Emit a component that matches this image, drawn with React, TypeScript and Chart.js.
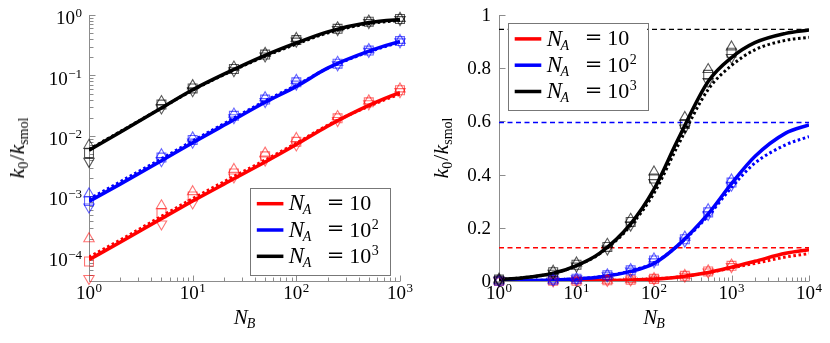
import React, { useEffect, useRef, useState } from 'react';
import { Chart, registerables } from 'chart.js';
Chart.register(...registerables);

// ---- data ----
const curveN = [1, 2, 5, 10, 20, 50, 100, 200, 500, 1000, 2000, 5000, 10000];
const solidNA10 = [9.0e-5, 1.75e-4, 4.3e-4, 8.4e-4, 1.6e-3, 3.7e-3, 7.2e-3, 0.0145, 0.032, 0.052, 0.074, 0.104, 0.118];
const dottedNA10 = [1.0e-4, 1.9e-4, 4.7e-4, 9.2e-4, 1.75e-3, 4.0e-3, 7.6e-3, 0.015, 0.031, 0.049, 0.066, 0.09, 0.103];
const solidNA100 = [8.3e-4, 1.6e-3, 3.9e-3, 7.7e-3, 0.015, 0.036, 0.066, 0.132, 0.252, 0.366, 0.468, 0.556, 0.587];
const dottedNA100 = [9.0e-4, 1.75e-3, 4.2e-3, 8.3e-3, 0.016, 0.038, 0.069, 0.131, 0.245, 0.352, 0.443, 0.512, 0.543];
const solidNA1000 = [5.8e-3, 0.0115, 0.029, 0.058, 0.105, 0.215, 0.345, 0.527, 0.75, 0.84, 0.896, 0.931, 0.944];
const dottedNA1000 = [6.0e-3, 0.0118, 0.029, 0.057, 0.103, 0.208, 0.33, 0.505, 0.72, 0.81, 0.869, 0.905, 0.916];

const markerN = [1, 5, 10, 25, 50, 100, 250, 500, 1000];
const sqNA10 = [8.4e-5, 5.3e-4, 1.0e-3, 2.4e-3, 4.6e-3, 8.0e-3, 0.0196, 0.036, 0.057];
const upNA10 = [2.0e-4, 7.0e-4, 1.2e-3, 2.8e-3, 5.2e-3, 9.1e-3, 0.021, 0.038, 0.06];
const downNA10 = [4.4e-5, 3.5e-4, 7.8e-4, 2.1e-3, 4.0e-3, 7.1e-3, 0.018, 0.034, 0.054];
const sqNA100 = [8.4e-4, 4.4e-3, 8.6e-3, 0.0215, 0.04, 0.077, 0.157, 0.258, 0.37];
const upNA100 = [1.1e-3, 4.9e-3, 9.3e-3, 0.023, 0.043, 0.083, 0.165, 0.268, 0.38];
const downNA100 = [6.7e-4, 3.9e-3, 7.9e-3, 0.02, 0.037, 0.072, 0.15, 0.25, 0.36];
const sqNA1000 = [5.2e-3, 0.033, 0.061, 0.128, 0.222, 0.385, 0.59, 0.775, 0.858];
const upNA1000 = [7.0e-3, 0.037, 0.068, 0.138, 0.232, 0.41, 0.615, 0.795, 0.88];
const downNA1000 = [3.8e-3, 0.029, 0.056, 0.12, 0.21, 0.37, 0.575, 0.75, 0.84];

const asymptoteValues = [0.125, 0.596, 0.946];
const asymptoteN = [1, 10000];

const leftXDecades = [0, 1, 2, 3];
const leftYDecades = [-4, -3, -2, -1, 0];
const rightXDecades = [0, 1, 2, 3, 4];
const rightYTicks = [0, 0.2, 0.4, 0.6, 0.8, 1];
const rightYTickLabels = ['0', '0.2', '0.4', '0.6', '0.8', '1'];

const legendBase = ['10', '10', '10'];
const legendExp = ['', '2', '3'];

const seriesColors = ['#ff0000', '#0000ff', '#000000'];
const markerColors = ['rgba(255,0,0,0.55)', 'rgba(0,0,255,0.6)', 'rgba(0,0,0,0.65)'];

const AXIS_COLOR = '#8c8c8c';
const SERIF = 'Liberation Serif, serif';
const EQ_FONT = 'DejaVu Serif, serif';

type Side = 'left' | 'right';
const panelCfg: Record<Side, any> = {
  left: { xDecades: leftXDecades, yLog: true, yDecades: leftYDecades, yTitleX: 24, legendPos: 'br' },
  right: { xDecades: rightXDecades, yLog: false, yTicks: rightYTicks, yTitleX: 33, legendPos: 'tl' },
};

const LEG_W = 139.5;
const LEG_H = 86.5;
function legendBox(a: any, pos: string) {
  const bx = pos === 'br' ? a.right - 10.7 - LEG_W : a.left + 8.7;
  const by = pos === 'br' ? a.bottom - 7 - LEG_H : a.top + 7.7;
  return { bx, by };
}

function line(ctx: CanvasRenderingContext2D, x1: number, y1: number, x2: number, y2: number) {
  ctx.beginPath();
  ctx.moveTo(x1, y1);
  ctx.lineTo(x2, y2);
  ctx.stroke();
}

// axes, tick marks and legend frame drawn on the canvas; text is real DOM text on top
const pgfPlugin = {
  id: 'pgf',
  beforeDatasetsDraw(chart: any, _args: any, o: any) {
    const { ctx, chartArea: a } = chart;
    const xs = chart.scales.x;
    const ys = chart.scales.y;
    ctx.save();
    ctx.strokeStyle = AXIS_COLOR;
    ctx.lineWidth = 1;
    const L = Math.round(a.left) + 0.5;
    const B = Math.round(a.bottom) + 0.5;
    ctx.beginPath();
    ctx.moveTo(L, a.top);
    ctx.lineTo(L, B);
    ctx.lineTo(a.right, B);
    ctx.stroke();
    const xd: number[] = o.xDecades;
    xd.forEach((d: number, i: number) => {
      const px = Math.round(xs.getPixelForValue(Math.pow(10, d))) + 0.5;
      line(ctx, px, B, px, B - 6);
      if (i < xd.length - 1) {
        for (let m = 2; m <= 9; m++) {
          const p = Math.round(xs.getPixelForValue(m * Math.pow(10, d))) + 0.5;
          line(ctx, p, B, p, B - 4);
        }
      }
    });
    if (o.yLog) {
      const yd: number[] = o.yDecades;
      yd.forEach((d: number) => {
        const py = Math.round(ys.getPixelForValue(Math.pow(10, d))) + 0.5;
        line(ctx, L, py, L + 6, py);
      });
      for (let d = yd[0] - 1; d < yd[yd.length - 1]; d++) {
        for (let m = 2; m <= 9; m++) {
          const v = m * Math.pow(10, d);
          if (v < ys.min || v > ys.max) continue;
          const py = Math.round(ys.getPixelForValue(v)) + 0.5;
          line(ctx, L, py, L + 4, py);
        }
      }
    } else {
      (o.yTicks as number[]).forEach((v) => {
        const py = Math.round(ys.getPixelForValue(v)) + 0.5;
        line(ctx, L, py, L + 6, py);
      });
    }
    ctx.restore();
  },
  afterDatasetsDraw(chart: any, _args: any, o: any) {
    const { ctx, chartArea: a } = chart;
    const { bx, by } = legendBox(a, o.legendPos);
    ctx.save();
    ctx.fillStyle = '#fff';
    ctx.fillRect(bx, by, LEG_W, LEG_H);
    ctx.strokeStyle = '#777';
    ctx.lineWidth = 1;
    ctx.strokeRect(Math.round(bx) + 0.5, Math.round(by) + 0.5, Math.round(LEG_W), Math.round(LEG_H));
    legendBase.forEach((_b, i) => {
      const ly = by + 16.2 + i * 26.3;
      ctx.strokeStyle = seriesColors[i];
      ctx.lineWidth = 3.5;
      line(ctx, bx + 7, ly, bx + 33.6, ly);
    });
    ctx.restore();
  },
};

function pts(xsArr: number[], ysArr: number[]) {
  return xsArr.map((x, i) => ({ x, y: ysArr[i] }));
}

function buildDatasets(withAsymptotes: boolean) {
  const sq = [sqNA10, sqNA100, sqNA1000];
  const up = [upNA10, upNA100, upNA1000];
  const down = [downNA10, downNA100, downNA1000];
  const solid = [solidNA10, solidNA100, solidNA1000];
  const dotted = [dottedNA10, dottedNA100, dottedNA1000];
  const ds: any[] = [];
  [2, 1, 0].forEach((s) => {
    const common = {
      showLine: false,
      clip: false,
      pointBorderColor: markerColors[s],
      pointBackgroundColor: 'rgba(0,0,0,0)',
      pointBorderWidth: 1.1,
    };
    ds.push({ ...common, data: pts(markerN, sq[s]), pointStyle: 'rect', pointRadius: 6.3 });
    ds.push({ ...common, data: pts(markerN, up[s]), pointStyle: 'triangle', pointRadius: 6, pointRotation: 0 });
    ds.push({ ...common, data: pts(markerN, down[s]), pointStyle: 'triangle', pointRadius: 6, pointRotation: 180 });
  });
  [2, 1, 0].forEach((s) => {
    ds.push({
      data: pts(curveN, solid[s]),
      showLine: true,
      pointRadius: 0,
      borderColor: seriesColors[s],
      borderWidth: 3.5,
      cubicInterpolationMode: 'monotone',
    });
  });
  [2, 1, 0].forEach((s) => {
    ds.push({
      data: pts(curveN, dotted[s]),
      showLine: true,
      pointRadius: 0,
      borderColor: seriesColors[s],
      borderWidth: 3,
      borderDash: [2.6, 2.6],
      borderCapStyle: 'butt',
      cubicInterpolationMode: 'monotone',
    });
  });
  if (withAsymptotes) {
    [2, 1, 0].forEach((s) => {
      ds.push({
        data: asymptoteN.map((x) => ({ x, y: asymptoteValues[s] })),
        showLine: true,
        pointRadius: 0,
        borderColor: seriesColors[s],
        borderWidth: 1.4,
        borderDash: [5, 3.5],
      });
    });
  }
  return ds;
}

function makeConfig(side: Side): any {
  const isLeft = side === 'left';
  return {
    type: 'scatter',
    data: { datasets: buildDatasets(!isLeft) },
    plugins: [pgfPlugin],
    options: {
      animation: false,
      responsive: false,
      events: [],
      layout: {
        padding: isLeft
          ? { left: 89, right: 15, top: 15, bottom: 62 }
          : { left: 84, right: 21, top: 15, bottom: 62 },
      },
      scales: {
        x: { type: 'logarithmic', min: 1, max: isLeft ? 1000 : 10000, display: false },
        y: isLeft
          ? { type: 'logarithmic', min: 4e-5, max: 1, display: false }
          : { type: 'linear', min: 0, max: 1, display: false },
      },
      plugins: {
        legend: { display: false },
        tooltip: { enabled: false },
        pgf: panelCfg[side],
      },
    },
  };
}

// ---- DOM text ----
type Label = {
  key: string;
  x: number;
  y: number; // baseline
  align: 'left' | 'center' | 'right';
  fs: number;
  family?: string;
  node: React.ReactNode;
};

const supStyle = (fs: number, raise: number): React.CSSProperties => ({
  fontSize: fs,
  verticalAlign: `${raise}px`,
  lineHeight: 0,
});

function pow(d: number, fs = 13, raise = 7) {
  const e = d < 0 ? '\u2212' + Math.abs(d) : String(d);
  return (
    <>
      10<span style={{ ...supStyle(fs, raise), marginLeft: 0.5 }}>{e}</span>
    </>
  );
}

function buildLabels(chart: any, side: Side): Label[] {
  const cfg = panelCfg[side];
  const a = chart.chartArea;
  const xs = chart.scales.x;
  const ys = chart.scales.y;
  const out: Label[] = [];
  (cfg.xDecades as number[]).forEach((d) => {
    out.push({ key: 'x' + d, x: xs.getPixelForValue(Math.pow(10, d)), y: a.bottom + 18, align: 'center', fs: 19, node: pow(d) });
  });
  if (cfg.yLog) {
    (cfg.yDecades as number[]).forEach((d) => {
      out.push({ key: 'y' + d, x: a.left - 7, y: ys.getPixelForValue(Math.pow(10, d)) + 9, align: 'right', fs: 19, node: pow(d) });
    });
  } else {
    rightYTicks.forEach((v, i) => {
      out.push({ key: 'y' + i, x: a.left - 8, y: ys.getPixelForValue(v) + 6, align: 'right', fs: 19, node: rightYTickLabels[i] });
    });
  }
  out.push({
    key: 'xt',
    x: (a.left + a.right) / 2,
    y: a.bottom + 44,
    align: 'center',
    fs: 21,
    node: (
      <>
        <i>N</i>
        <i style={{ ...supStyle(14, -4), marginLeft: -1 }}>B</i>
      </>
    ),
  });
  const { bx, by } = legendBox(a, cfg.legendPos);
  legendBase.forEach((base, i) => {
    const ty = by + 16.2 + i * 26.3 + 7;
    out.push({
      key: 'ln' + i,
      x: bx + 39,
      y: ty,
      align: 'left',
      fs: 23,
      node: (
        <>
          <i>N</i>
          <i style={{ ...supStyle(14, -4), marginLeft: -1.5 }}>A</i>
        </>
      ),
    });
    out.push({ key: 'le' + i, x: bx + 77, y: ty - 1, align: 'left', fs: 21, family: EQ_FONT, node: '=' });
    out.push({
      key: 'lv' + i,
      x: bx + 99.5,
      y: ty,
      align: 'left',
      fs: 22,
      node: legendExp[i] ? (
        <>
          {base}
          <span style={{ ...supStyle(14, 8), marginLeft: 0.5 }}>{legendExp[i]}</span>
        </>
      ) : (
        base
      ),
    });
  });
  return out;
}

function renderLabel(l: Label) {
  const tx = l.align === 'center' ? 'translateX(-50%)' : l.align === 'right' ? 'translateX(-100%)' : undefined;
  return (
    <div
      key={l.key}
      style={{
        position: 'absolute',
        left: l.x,
        top: l.y - 0.84 * l.fs,
        fontFamily: l.family || SERIF,
        fontSize: l.fs,
        lineHeight: `${l.fs}px`,
        whiteSpace: 'nowrap',
        transform: tx,
        color: '#000',
        pointerEvents: 'none',
      }}
    >
      {l.node}
    </div>
  );
}

function YTitle({ x, cy }: { x: number; cy: number }) {
  const fs = 22;
  return (
    <div style={{ position: 'absolute', left: x - 0.34 * fs, top: cy, width: 0, height: 0 }}>
      <div
        style={{
          position: 'absolute',
          left: 0,
          top: 0,
          fontFamily: SERIF,
          fontSize: fs,
          lineHeight: `${fs}px`,
          whiteSpace: 'nowrap',
          transform: 'translate(-50%, -50%) rotate(-90deg)',
          color: '#000',
        }}
      >
        <i>k</i>
        <span style={supStyle(14, -4)}>0</span>
        <span style={{ marginLeft: 1 }}>/</span>
        <i>k</i>
        <span style={supStyle(14, -4)}>smol</span>
      </div>
    </div>
  );
}

function Panel({ side, left }: { side: Side; left: number }) {
  const ref = useRef<HTMLCanvasElement>(null);
  const [labels, setLabels] = useState<Label[]>([]);
  const [titleY, setTitleY] = useState<number | null>(null);
  useEffect(() => {
    if (!ref.current) return;
    const chart = new Chart(ref.current, makeConfig(side));
    setLabels(buildLabels(chart, side));
    const a = chart.chartArea;
    setTitleY((a.top + a.bottom) / 2);
    return () => chart.destroy();
  }, [side]);
  return (
    <div style={{ position: 'absolute', left, top: 0, width: 415, height: 343 }}>
      <canvas
        ref={ref}
        width={415}
        height={343}
        style={{ position: 'absolute', left: 0, top: 0, width: 415, height: 343 }}
      />
      {labels.map(renderLabel)}
      {titleY !== null && <YTitle x={panelCfg[side].yTitleX} cy={titleY} />}
    </div>
  );
}

// transparent text in the first render so the serif faces are loaded early
function FontWarmup() {
  return (
    <div aria-hidden="true" style={{ position: 'absolute', left: 0, top: 0, opacity: 0, fontSize: 20, pointerEvents: 'none' }}>
      <span style={{ fontFamily: SERIF }}>10 0.2</span>
      <i style={{ fontFamily: SERIF }}>N k</i>
      <span style={{ fontFamily: EQ_FONT }}>=</span>
    </div>
  );
}

export default function App() {
  return (
    <div style={{ position: 'absolute', left: 0, top: 0, width: 830, height: 343, background: '#fff' }}>
      <FontWarmup />
      <Panel side="left" left={0} />
      <Panel side="right" left={415} />
    </div>
  );
}
